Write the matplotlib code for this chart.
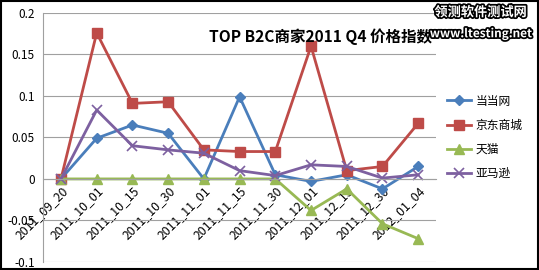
import numpy as np
import matplotlib.pyplot as plt
import matplotlib.patheffects as pe
from matplotlib.patches import Rectangle

plt.rcParams['font.family'] = ['Noto Sans CJK SC', 'DejaVu Sans']

# ================ dati ================
dates = ["2011_09_20", "2011_10_01", "2011_10_15", "2011_10_30", "2011_11_01",
         "2011_11_15", "2011_11_30", "2011_12_01", "2011_12_15", "2011_12_30",
         "2012_01_04"]
dangdang = [0, 0.049, 0.065, 0.055, 0.0, 0.099, 0.005, -0.003, 0.005, -0.012, 0.015]
jingdong = [0, 0.176, 0.091, 0.093, 0.035, 0.033, 0.033, 0.160, 0.010, 0.015, 0.067]
tmall = [0, 0, 0, 0, 0, 0, 0, -0.038, -0.012, -0.054, -0.072]
amazon = [0, 0.083, 0.040, 0.035, 0.031, 0.010, 0.004, 0.017, 0.015, 0.001, 0.005]
names = ["当当网", "京东商城", "天猫", "亚马逊"]
# ======================================

x = np.arange(len(dates))

fig = plt.figure(figsize=(5.39, 2.70), dpi=100)
ax = fig.add_axes([0.080, 0.030, 0.729, 0.922])

ax.plot(x, dangdang, "-D", color="#4A7EBB", lw=2, ms=5, label=names[0])
ax.plot(x, jingdong, "-s", color="#BE4B48", lw=2, ms=7, label=names[1])
ax.plot(x, tmall, "-^", color="#98B954", lw=2, ms=7, label=names[2])
ax.plot(x, amazon, "-x", color="#7D60A0", lw=2, ms=7, mew=1.2, label=names[3])

ax.set_xlim(-0.5, len(dates) - 0.5)
ax.set_ylim(-0.1, 0.2)
ax.set_yticks([-0.1, -0.05, 0, 0.05, 0.1, 0.15, 0.2])
ax.set_yticklabels(["-0.1", "-0.05", "0", "0.05", "0.1", "0.15", "0.2"])
ax.grid(axis="y", color="#A0A0A0", lw=0.8)
ax.set_axisbelow(True)

ax.spines["top"].set_visible(False)
ax.spines["right"].set_visible(False)
ax.spines["left"].set_color("#A0A0A0")
ax.spines["bottom"].set_position(("data", 0))
ax.spines["bottom"].set_color("#A0A0A0")

ax.set_xticks(x)
ax.set_xticklabels(dates, rotation=45, ha="right", rotation_mode="anchor")
ax.tick_params(axis="x", length=0, labelsize=8.8, pad=4)
ax.tick_params(axis="y", length=0, labelsize=8.5, pad=6)

ax.text(0.99, 0.905, "TOP B2C商家2011 Q4 价格指数", transform=ax.transAxes,
        ha="right", va="center", fontsize=11.2, fontweight="bold")

ax.legend(loc="center left", bbox_to_anchor=(1.01, 0.50), frameon=False,
          fontsize=8.5, handlelength=2.0, handletextpad=0.4, labelspacing=0.95,
          borderaxespad=0.2)

# watermark
fig.text(0.892, 0.955, "领测软件测试网", ha="center", va="center", fontsize=9.5,
         fontweight="bold", color="white",
         path_effects=[pe.withStroke(linewidth=2.5, foreground="black")])
fig.text(0.892, 0.875, "www.ltesting.net", ha="center", va="center", fontsize=8.5,
         fontweight="bold", color="white",
         path_effects=[pe.withStroke(linewidth=2.5, foreground="black")])

fig.patches.append(Rectangle((0.002, 0.004), 0.996, 0.992, transform=fig.transFigure,
                             fill=False, edgecolor="black", lw=1.5))

fig.savefig("out.png", dpi=100)
